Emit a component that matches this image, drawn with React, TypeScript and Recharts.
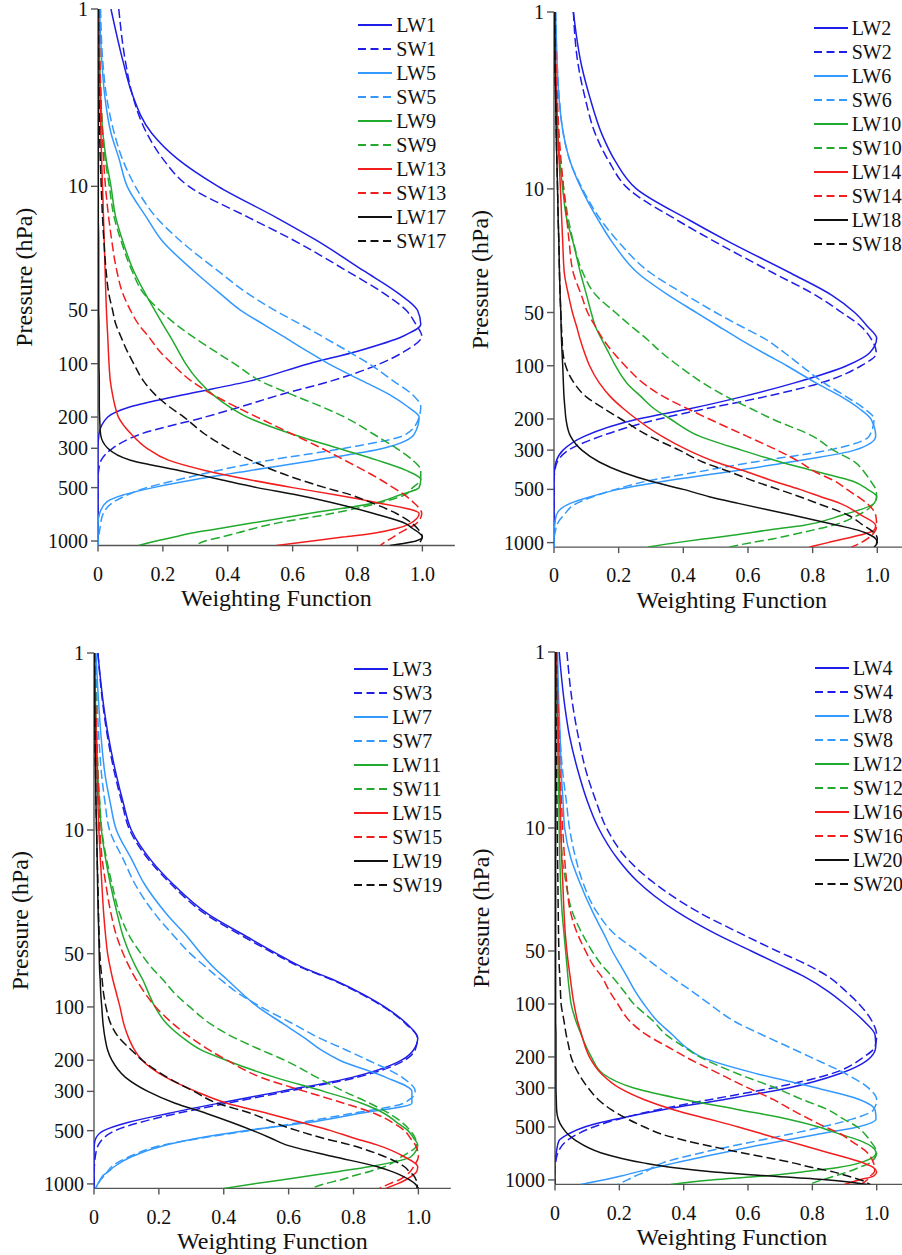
import React from 'react';
import { ScatterChart, Scatter, XAxis, YAxis, Legend } from 'recharts';

// pressure levels (hPa) shared by every weighting-function profile
const PRESSURE = [1, 2, 3, 5, 7, 10, 15, 20, 30, 40, 50, 60, 70, 85, 100, 125, 150, 175, 200, 250, 300, 350, 400, 450, 500, 550, 600, 700, 800, 850, 900, 950, 1000, 1060];
const P_TICKS = [1, 10, 50, 100, 200, 300, 500, 1000];
const W_TICKS = [0, 0.2, 0.4, 0.6, 0.8, 1.0];

// panel 1
const LW1 = [0.04, 0.078, 0.105, 0.165, 0.245, 0.37, 0.55, 0.67, 0.82, 0.925, 0.985, 0.995, 0.94, 0.8, 0.65, 0.47, 0.26, 0.1, 0.03, 0.003, 0, 0, 0, 0, 0, 0, 0, 0, 0, 0, 0, 0, 0, 0];
const SW1 = [0.064, 0.085, 0.105, 0.15, 0.2, 0.28, 0.465, 0.6, 0.767, 0.88, 0.95, 0.98, 0.998, 0.946, 0.87, 0.72, 0.56, 0.44, 0.33, 0.13, 0.045, 0.01, 0.002, 0, 0, 0, 0, 0, 0, 0, 0, 0, 0, 0];
const LW5 = [0.005, 0.012, 0.02, 0.04, 0.065, 0.09, 0.15, 0.195, 0.295, 0.375, 0.44, 0.51, 0.57, 0.645, 0.71, 0.815, 0.9, 0.955, 0.99, 0.975, 0.88, 0.67, 0.47, 0.3, 0.17, 0.077, 0.028, 0.005, 0, 0, 0, 0, 0, 0];
const SW5 = [0.008, 0.015, 0.025, 0.05, 0.075, 0.115, 0.18, 0.25, 0.37, 0.46, 0.545, 0.625, 0.69, 0.77, 0.835, 0.91, 0.97, 0.995, 0.99, 0.95, 0.76, 0.53, 0.37, 0.25, 0.15, 0.09, 0.05, 0.016, 0.008, 0.006, 0.004, 0.002, 0.001, 0];
const LW9 = [0.002, 0.005, 0.008, 0.015, 0.025, 0.04, 0.055, 0.075, 0.11, 0.145, 0.175, 0.2, 0.222, 0.248, 0.27, 0.31, 0.355, 0.405, 0.46, 0.6, 0.74, 0.86, 0.95, 0.995, 0.99, 0.93, 0.87, 0.65, 0.46, 0.375, 0.29, 0.235, 0.18, 0.125];
const SW9 = [0.002, 0.005, 0.008, 0.015, 0.022, 0.035, 0.05, 0.07, 0.105, 0.14, 0.19, 0.24, 0.29, 0.36, 0.42, 0.5, 0.6, 0.69, 0.76, 0.85, 0.92, 0.97, 0.995, 0.995, 0.97, 0.945, 0.88, 0.72, 0.54, 0.48, 0.43, 0.38, 0.33, 0.3];
const LW13 = [0.002, 0.004, 0.006, 0.009, 0.011, 0.014, 0.017, 0.019, 0.022, 0.024, 0.026, 0.028, 0.03, 0.032, 0.034, 0.038, 0.045, 0.053, 0.063, 0.103, 0.151, 0.217, 0.33, 0.463, 0.6, 0.735, 0.846, 0.99, 0.96, 0.92, 0.855, 0.755, 0.66, 0.55];
const SW13 = [0.003, 0.006, 0.009, 0.013, 0.017, 0.023, 0.033, 0.042, 0.058, 0.076, 0.1, 0.125, 0.155, 0.19, 0.228, 0.287, 0.355, 0.425, 0.49, 0.6, 0.69, 0.76, 0.82, 0.87, 0.91, 0.945, 0.97, 0.998, 0.98, 0.955, 0.93, 0.91, 0.89, 0.87];
const LW17 = [0, 0, 0.001, 0.001, 0.001, 0.001, 0.001, 0.002, 0.002, 0.002, 0.002, 0.003, 0.003, 0.003, 0.003, 0.004, 0.004, 0.004, 0.005, 0.008, 0.03, 0.1, 0.25, 0.376, 0.49, 0.614, 0.71, 0.85, 0.95, 0.97, 0.99, 1.0, 0.98, 0.9];
const SW17 = [0.001, 0.002, 0.003, 0.005, 0.007, 0.01, 0.014, 0.018, 0.025, 0.033, 0.045, 0.055, 0.07, 0.09, 0.11, 0.14, 0.177, 0.22, 0.265, 0.33, 0.4, 0.47, 0.543, 0.62, 0.7, 0.78, 0.835, 0.92, 0.97, 0.985, 0.995, 1.0, 0.995, 0.985];

// panel 2
const LW2 = [0.06, 0.085, 0.11, 0.15, 0.19, 0.255, 0.418, 0.543, 0.733, 0.86, 0.93, 0.97, 0.998, 0.975, 0.905, 0.744, 0.58, 0.42, 0.26, 0.095, 0.028, 0.006, 0.001, 0, 0, 0, 0, 0, 0, 0, 0, 0, 0, 0];
const SW2 = [0.06, 0.075, 0.095, 0.13, 0.17, 0.23, 0.38, 0.5, 0.68, 0.81, 0.89, 0.95, 0.98, 0.997, 0.95, 0.825, 0.65, 0.47, 0.325, 0.145, 0.045, 0.01, 0.002, 0, 0, 0, 0, 0, 0, 0, 0, 0, 0, 0];
const LW6 = [0.005, 0.01, 0.015, 0.03, 0.05, 0.085, 0.137, 0.18, 0.26, 0.355, 0.44, 0.51, 0.57, 0.65, 0.72, 0.81, 0.89, 0.945, 0.98, 0.995, 0.93, 0.73, 0.53, 0.34, 0.2, 0.113, 0.05, 0.007, 0.002, 0, 0, 0, 0, 0];
const SW6 = [0.005, 0.01, 0.016, 0.03, 0.05, 0.088, 0.145, 0.2, 0.3, 0.41, 0.5, 0.58, 0.65, 0.715, 0.765, 0.835, 0.905, 0.96, 0.99, 0.975, 0.85, 0.62, 0.44, 0.285, 0.19, 0.12, 0.07, 0.03, 0.008, 0.005, 0.002, 0, 0, 0];
const LW10 = [0.002, 0.004, 0.007, 0.012, 0.018, 0.027, 0.04, 0.059, 0.082, 0.101, 0.115, 0.128, 0.146, 0.17, 0.19, 0.225, 0.27, 0.31, 0.36, 0.45, 0.58, 0.7, 0.82, 0.925, 0.97, 0.998, 0.99, 0.89, 0.77, 0.66, 0.57, 0.47, 0.38, 0.29];
const SW10 = [0.002, 0.004, 0.008, 0.014, 0.02, 0.03, 0.045, 0.06, 0.09, 0.13, 0.19, 0.24, 0.285, 0.335, 0.385, 0.46, 0.535, 0.61, 0.675, 0.8, 0.864, 0.93, 0.96, 0.98, 0.995, 0.998, 0.99, 0.94, 0.86, 0.8, 0.74, 0.68, 0.61, 0.54];
const LW14 = [0.002, 0.005, 0.008, 0.012, 0.016, 0.02, 0.024, 0.027, 0.032, 0.045, 0.057, 0.07, 0.08, 0.095, 0.11, 0.14, 0.175, 0.215, 0.255, 0.333, 0.414, 0.5, 0.6, 0.68, 0.76, 0.825, 0.885, 0.95, 0.995, 0.99, 0.954, 0.898, 0.847, 0.79];
const SW14 = [0.003, 0.006, 0.01, 0.016, 0.022, 0.03, 0.04, 0.047, 0.06, 0.085, 0.104, 0.128, 0.15, 0.185, 0.22, 0.275, 0.34, 0.413, 0.48, 0.596, 0.69, 0.76, 0.81, 0.87, 0.906, 0.94, 0.968, 0.995, 0.998, 0.995, 0.985, 0.97, 0.95, 0.92];
const LW18 = [0.002, 0.003, 0.005, 0.007, 0.009, 0.011, 0.013, 0.015, 0.017, 0.019, 0.021, 0.022, 0.023, 0.025, 0.027, 0.029, 0.031, 0.034, 0.037, 0.051, 0.086, 0.14, 0.212, 0.3, 0.4, 0.48, 0.57, 0.74, 0.88, 0.94, 0.975, 0.995, 1.0, 0.99];
const SW18 = [0.002, 0.003, 0.005, 0.007, 0.009, 0.011, 0.013, 0.015, 0.017, 0.019, 0.021, 0.023, 0.025, 0.028, 0.036, 0.062, 0.1, 0.155, 0.207, 0.295, 0.387, 0.46, 0.547, 0.62, 0.694, 0.76, 0.815, 0.91, 0.958, 0.98, 0.995, 1.0, 0.998, 0.99];

// panel 3
const LW3 = [0.012, 0.03, 0.045, 0.07, 0.09, 0.115, 0.178, 0.241, 0.353, 0.47, 0.563, 0.645, 0.736, 0.83, 0.896, 0.965, 0.998, 0.985, 0.948, 0.796, 0.576, 0.385, 0.228, 0.104, 0.03, 0.006, 0.001, 0, 0, 0, 0, 0, 0, 0];
const SW3 = [0.012, 0.028, 0.042, 0.066, 0.086, 0.11, 0.172, 0.235, 0.345, 0.46, 0.556, 0.64, 0.732, 0.826, 0.893, 0.962, 0.997, 0.99, 0.958, 0.81, 0.595, 0.41, 0.255, 0.14, 0.065, 0.03, 0.014, 0.004, 0.001, 0, 0, 0, 0, 0];
const LW7 = [0.006, 0.015, 0.022, 0.035, 0.05, 0.069, 0.119, 0.154, 0.225, 0.287, 0.33, 0.37, 0.41, 0.46, 0.505, 0.585, 0.65, 0.7, 0.757, 0.9, 0.98, 0.98, 0.816, 0.66, 0.465, 0.323, 0.225, 0.117, 0.062, 0.045, 0.027, 0.019, 0.012, 0.005];
const SW7 = [0.004, 0.01, 0.015, 0.024, 0.034, 0.048, 0.093, 0.125, 0.189, 0.248, 0.297, 0.347, 0.39, 0.45, 0.515, 0.615, 0.695, 0.777, 0.845, 0.95, 0.99, 0.955, 0.793, 0.635, 0.477, 0.333, 0.218, 0.11, 0.054, 0.042, 0.032, 0.02, 0.012, 0.005];
const LW11 = [0.002, 0.005, 0.008, 0.012, 0.017, 0.023, 0.037, 0.05, 0.072, 0.09, 0.11, 0.13, 0.15, 0.17, 0.188, 0.225, 0.275, 0.33, 0.407, 0.558, 0.708, 0.825, 0.895, 0.934, 0.968, 0.985, 0.998, 0.978, 0.848, 0.755, 0.665, 0.577, 0.49, 0.4];
const SW11 = [0.003, 0.006, 0.009, 0.013, 0.018, 0.024, 0.04, 0.055, 0.08, 0.11, 0.145, 0.178, 0.212, 0.252, 0.295, 0.36, 0.435, 0.515, 0.588, 0.687, 0.77, 0.85, 0.91, 0.95, 0.975, 0.99, 0.995, 0.95, 0.895, 0.85, 0.8, 0.76, 0.71, 0.67];
const LW15 = [0.002, 0.004, 0.007, 0.01, 0.012, 0.015, 0.02, 0.024, 0.03, 0.036, 0.042, 0.05, 0.058, 0.07, 0.08, 0.092, 0.107, 0.125, 0.148, 0.222, 0.314, 0.41, 0.536, 0.64, 0.73, 0.8, 0.87, 0.955, 0.998, 0.995, 0.98, 0.96, 0.935, 0.9];
const SW15 = [0.002, 0.005, 0.008, 0.012, 0.015, 0.018, 0.026, 0.036, 0.053, 0.07, 0.09, 0.11, 0.13, 0.16, 0.19, 0.245, 0.3, 0.355, 0.41, 0.515, 0.65, 0.77, 0.865, 0.92, 0.957, 0.975, 0.99, 1.0, 0.985, 0.975, 0.96, 0.94, 0.91, 0.88];
const LW19 = [0.001, 0.002, 0.003, 0.005, 0.006, 0.008, 0.01, 0.011, 0.013, 0.015, 0.016, 0.017, 0.019, 0.021, 0.024, 0.028, 0.034, 0.042, 0.055, 0.097, 0.166, 0.25, 0.347, 0.425, 0.49, 0.544, 0.59, 0.737, 0.874, 0.917, 0.95, 0.973, 0.99, 1.0];
const SW19 = [0.001, 0.002, 0.003, 0.005, 0.006, 0.008, 0.01, 0.012, 0.014, 0.016, 0.018, 0.021, 0.025, 0.03, 0.037, 0.052, 0.078, 0.115, 0.149, 0.226, 0.308, 0.38, 0.485, 0.554, 0.627, 0.704, 0.787, 0.895, 0.957, 0.972, 0.986, 0.993, 0.997, 0.995];

// panel 4
const LW4 = [0.013, 0.03, 0.045, 0.075, 0.1, 0.135, 0.195, 0.255, 0.38, 0.5, 0.61, 0.7, 0.775, 0.85, 0.9, 0.96, 0.995, 0.997, 0.982, 0.882, 0.725, 0.523, 0.332, 0.193, 0.092, 0.04, 0.012, 0.004, 0, 0, 0, 0, 0, 0];
const SW4 = [0.037, 0.055, 0.072, 0.1, 0.127, 0.16, 0.225, 0.3, 0.445, 0.58, 0.69, 0.785, 0.85, 0.905, 0.945, 0.985, 1.0, 0.995, 0.96, 0.857, 0.676, 0.48, 0.316, 0.2, 0.12, 0.069, 0.036, 0.009, 0.002, 0, 0, 0, 0, 0];
const LW8 = [0.008, 0.012, 0.016, 0.02, 0.025, 0.03, 0.05, 0.075, 0.117, 0.152, 0.178, 0.203, 0.224, 0.25, 0.276, 0.318, 0.366, 0.405, 0.454, 0.63, 0.814, 0.948, 0.995, 0.998, 0.94, 0.817, 0.704, 0.522, 0.374, 0.313, 0.256, 0.205, 0.15, 0.08];
const SW8 = [0.005, 0.01, 0.015, 0.025, 0.035, 0.045, 0.065, 0.085, 0.13, 0.185, 0.255, 0.31, 0.36, 0.427, 0.48, 0.556, 0.645, 0.725, 0.793, 0.905, 0.974, 1.0, 0.99, 0.926, 0.83, 0.728, 0.628, 0.456, 0.335, 0.304, 0.28, 0.25, 0.225, 0.195];
const LW12 = [0.003, 0.006, 0.008, 0.01, 0.012, 0.013, 0.015, 0.017, 0.022, 0.028, 0.033, 0.037, 0.04, 0.045, 0.05, 0.065, 0.082, 0.097, 0.113, 0.15, 0.245, 0.405, 0.574, 0.722, 0.82, 0.887, 0.95, 0.998, 0.947, 0.88, 0.77, 0.65, 0.487, 0.36];
const SW12 = [0.003, 0.006, 0.009, 0.012, 0.015, 0.018, 0.023, 0.033, 0.054, 0.085, 0.115, 0.145, 0.178, 0.215, 0.245, 0.305, 0.346, 0.4, 0.45, 0.57, 0.685, 0.77, 0.85, 0.896, 0.94, 0.964, 0.98, 1.0, 0.98, 0.945, 0.91, 0.87, 0.83, 0.79];
const LW16 = [0.004, 0.008, 0.011, 0.014, 0.016, 0.018, 0.021, 0.024, 0.028, 0.032, 0.037, 0.042, 0.047, 0.053, 0.059, 0.07, 0.083, 0.094, 0.107, 0.145, 0.2, 0.278, 0.371, 0.477, 0.57, 0.647, 0.72, 0.85, 0.958, 0.99, 1.0, 0.99, 0.945, 0.9];
const SW16 = [0.005, 0.009, 0.012, 0.016, 0.02, 0.024, 0.03, 0.036, 0.048, 0.07, 0.095, 0.118, 0.145, 0.17, 0.195, 0.232, 0.285, 0.35, 0.406, 0.512, 0.6, 0.68, 0.736, 0.79, 0.84, 0.89, 0.92, 0.971, 0.99, 0.994, 0.993, 0.98, 0.97, 0.95];
const LW20 = [0.002, 0.002, 0.002, 0.002, 0.002, 0.002, 0.002, 0.002, 0.002, 0.002, 0.002, 0.002, 0.002, 0.002, 0.002, 0.002, 0.003, 0.003, 0.003, 0.003, 0.003, 0.004, 0.005, 0.01, 0.022, 0.04, 0.066, 0.142, 0.275, 0.365, 0.494, 0.67, 0.85, 0.97];
const SW20 = [0.002, 0.003, 0.004, 0.005, 0.006, 0.007, 0.008, 0.009, 0.01, 0.011, 0.012, 0.013, 0.015, 0.017, 0.019, 0.028, 0.035, 0.043, 0.05, 0.074, 0.103, 0.135, 0.176, 0.225, 0.278, 0.332, 0.41, 0.58, 0.74, 0.8, 0.865, 0.91, 0.95, 0.98];

const COLORS = ['#1e1ee8', '#3399ff', '#22aa2e', '#f21d1d', '#111111'];
const SERIF = '"Liberation Serif", Tinos, "Times New Roman", "Nimbus Roman", "Nimbus Roman No9 L", FreeSerif, "DejaVu Serif", "Noto Serif", serif';
const AXIS = { stroke: '#555', strokeWidth: 1.4 };

type Curve = { name: string; values: number[]; color: string; dashed: boolean };

const pair = (ch: number, lw: number[], sw: number[], color: string): Curve[] => [
  { name: `LW${ch}`, values: lw, color, dashed: false },
  { name: `SW${ch}`, values: sw, color, dashed: true },
];

// plot box of each panel on the page: left edge (w=0), top (p=1), px per unit w, bottom (p=1060)
const PANELS = [
  {
    left: 98.3, top: 9, unit: 324.4, bottom: 545.5,
    curves: [...pair(1, LW1, SW1, COLORS[0]), ...pair(5, LW5, SW5, COLORS[1]), ...pair(9, LW9, SW9, COLORS[2]), ...pair(13, LW13, SW13, COLORS[3]), ...pair(17, LW17, SW17, COLORS[4])],
  },
  {
    left: 553.7, top: 11.9, unit: 323.3, bottom: 547,
    curves: [...pair(2, LW2, SW2, COLORS[0]), ...pair(6, LW6, SW6, COLORS[1]), ...pair(10, LW10, SW10, COLORS[2]), ...pair(14, LW14, SW14, COLORS[3]), ...pair(18, LW18, SW18, COLORS[4])],
  },
  {
    left: 94.3, top: 652.7, unit: 324.4, bottom: 1188.1,
    curves: [...pair(3, LW3, SW3, COLORS[0]), ...pair(7, LW7, SW7, COLORS[1]), ...pair(11, LW11, SW11, COLORS[2]), ...pair(15, LW15, SW15, COLORS[3]), ...pair(19, LW19, SW19, COLORS[4])],
  },
  {
    left: 555, top: 652, unit: 321.7, bottom: 1184.4,
    curves: [...pair(4, LW4, SW4, COLORS[0]), ...pair(8, LW8, SW8, COLORS[1]), ...pair(12, LW12, SW12, COLORS[2]), ...pair(16, LW16, SW16, COLORS[3]), ...pair(20, LW20, SW20, COLORS[4])],
  },
];

const YW = 100;
const MT = 10;
const MR = 10;
const XH = 75;

const NoMarker = () => <g />;

function LegendBox({ curves }: { curves: Curve[] }) {
  return (
    <div style={{ fontFamily: SERIF, fontSize: 20, color: '#111' }}>
      {curves.map((c) => (
        <div key={c.name} style={{ display: 'flex', alignItems: 'center', height: 24 }}>
          <svg width={36} height={6} style={{ marginRight: 2, flex: 'none' }}>
            <line x1={0} y1={3} x2={34} y2={3} stroke={c.color} strokeWidth={2} strokeDasharray={c.dashed ? '8 4.5' : undefined} />
          </svg>
          <span style={{ lineHeight: '24px' }}>{c.name}</span>
        </div>
      ))}
    </div>
  );
}

function Panel({ panel }: { panel: (typeof PANELS)[number] }) {
  const plotW = panel.unit * 1.1;
  const plotH = panel.bottom - panel.top;
  const width = YW + plotW + MR;
  const height = MT + plotH + XH;
  const tickStyle = { fontSize: 20, fontFamily: SERIF, fill: '#111' };

  return (
    <div style={{ position: 'absolute', left: panel.left - YW, top: panel.top - MT }}>
      <ScatterChart width={width} height={height} margin={{ top: MT, right: MR, bottom: 0, left: 0 }}>
        <XAxis
          xAxisId="w"
          type="number"
          dataKey="w"
          domain={[0, 1.1]}
          allowDataOverflow
          ticks={W_TICKS}
          interval={0}
          height={XH}
          tickSize={6}
          tickMargin={15}
          tick={tickStyle}
          tickLine={AXIS}
          axisLine={AXIS}
          tickFormatter={(v: number) => (v === 0 ? '0' : v.toFixed(1))}
          label={{
            content: () => (
              <text x={YW + plotW / 2} y={MT + plotH + 61} textAnchor="middle" fontFamily={SERIF} fontSize={24} fill="#111">
                Weighting Function
              </text>
            ),
          }}
        />
        <XAxis xAxisId="top" orientation="top" type="number" domain={[0, 1.1]} allowDataOverflow height={0} tick={false} tickLine={false} axisLine={AXIS} />
        <YAxis
          yAxisId="p"
          type="number"
          dataKey="p"
          scale="log"
          domain={[1, 1060]}
          allowDataOverflow
          reversed
          ticks={P_TICKS}
          interval={0}
          width={YW}
          tickSize={7}
          tickMargin={3}
          tick={tickStyle}
          tickLine={AXIS}
          axisLine={AXIS}
          label={{
            content: () => {
              const x = YW - 74;
              const y = MT + plotH / 2;
              return (
                <text x={x} y={y} dy="0.35em" transform={`rotate(-90, ${x}, ${y})`} textAnchor="middle" fontFamily={SERIF} fontSize={24} fill="#111">
                  Pressure (hPa)
                </text>
              );
            },
          }}
        />
        <YAxis yAxisId="right" orientation="right" type="number" domain={[0, 1]} width={0} tick={false} tickLine={false} axisLine={AXIS} />
        <Legend
          layout="horizontal"
          verticalAlign="middle"
          align="center"
          wrapperStyle={{ left: YW + 260, top: MT + 4, width: 130, height: 245 }}
          content={() => <LegendBox curves={panel.curves} />}
        />
        {panel.curves.map((c) => (
          <Scatter
            key={c.name}
            name={c.name}
            xAxisId="w"
            yAxisId="p"
            data={PRESSURE.map((p, i) => ({ p, w: c.values[i] }))}
            fill={c.color}
            shape={NoMarker}
            line={{ stroke: c.color, strokeWidth: 1.5, strokeDasharray: c.dashed ? '9 4' : undefined }}
            lineType="joint"
            lineJointType="monotoneY"
            isAnimationActive={false}
          />
        ))}
      </ScatterChart>
    </div>
  );
}

export default function App() {
  return (
    <div style={{ position: 'fixed', left: 0, top: 0, width: 902, height: 1255, overflow: 'hidden', background: '#fff' }}>
      {PANELS.map((panel, i) => (
        <Panel key={i} panel={panel} />
      ))}
    </div>
  );
}
